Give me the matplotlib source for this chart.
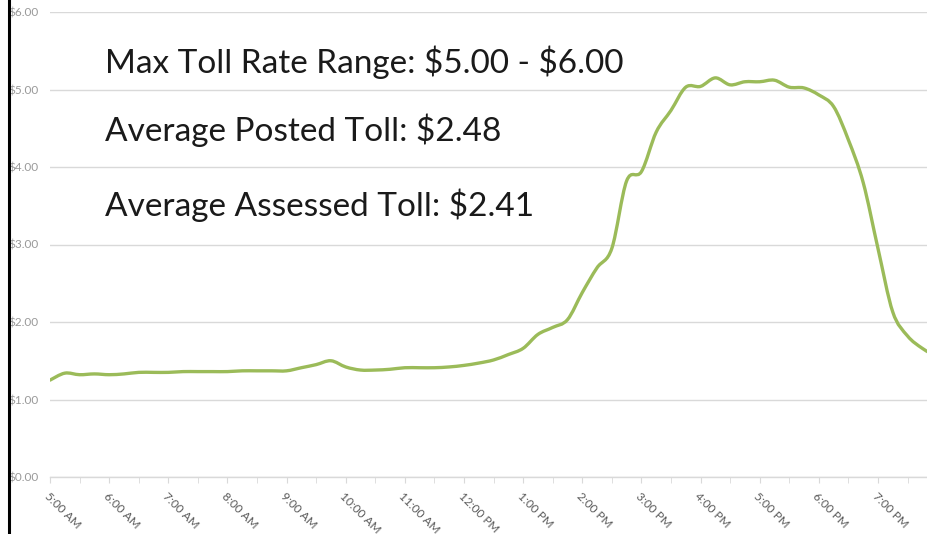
import matplotlib
matplotlib.use("Agg")
import matplotlib.pyplot as plt
from matplotlib.lines import Line2D
from matplotlib.path import Path
from matplotlib.patches import PathPatch
from matplotlib.ticker import MultipleLocator, FuncFormatter

# toll rate every 15 minutes starting 5:00 AM
start_hour = 5.0
step_hours = 0.25
toll = [1.25, 1.34, 1.32, 1.33, 1.32, 1.33, 1.35, 1.35, 1.35, 1.36,
        1.36, 1.36, 1.36, 1.37, 1.37, 1.37, 1.37, 1.41, 1.45, 1.50,
        1.42, 1.38, 1.38, 1.39, 1.41, 1.41, 1.41, 1.42, 1.44, 1.47,
        1.51, 1.58, 1.66, 1.84, 1.93, 2.03, 2.38, 2.70, 2.95, 3.82,
        3.94, 4.45, 4.73, 5.03, 5.04, 5.15, 5.06, 5.10, 5.10, 5.12,
        5.03, 5.02, 4.93, 4.78, 4.35, 3.80, 2.95, 2.13, 1.82, 1.66,
        1.55]
hours = [start_hour + i * step_hours for i in range(len(toll))]

hour_labels = ["5:00 AM", "6:00 AM", "7:00 AM", "8:00 AM", "9:00 AM",
               "10:00 AM", "11:00 AM", "12:00 PM", "1:00 PM", "2:00 PM",
               "3:00 PM", "4:00 PM", "5:00 PM", "6:00 PM", "7:00 PM"]

notes = [r"Max Toll Rate Range: \$5.00 - \$6.00",
         r"Average Posted Toll: \$2.48",
         r"Average Assessed Toll: \$2.41"]

font = "Lato"
line_color = "#9bbb59"
grid_color = "#d9d9d9"


def smooth_path(xs, ys, t=1 / 6):
    # excel style smoothed line: catmull-rom turned into bezier segments
    verts = [(xs[0], ys[0])]
    codes = [Path.MOVETO]
    n = len(xs)
    for i in range(n - 1):
        x0, y0 = xs[max(i - 1, 0)], ys[max(i - 1, 0)]
        x1, y1 = xs[i], ys[i]
        x2, y2 = xs[i + 1], ys[i + 1]
        x3, y3 = xs[min(i + 2, n - 1)], ys[min(i + 2, n - 1)]
        verts += [(x1 + (x2 - x0) * t, y1 + (y2 - y0) * t),
                  (x2 - (x3 - x1) * t, y2 - (y3 - y1) * t),
                  (x2, y2)]
        codes += [Path.CURVE4] * 3
    return Path(verts, codes)


fig = plt.figure(figsize=(9.28, 5.34), dpi=100)
ax = fig.add_axes([50 / 928, 57 / 534, 878 / 928, 465 / 534])

ax.add_patch(PathPatch(smooth_path(hours, toll), facecolor="none",
                       edgecolor=line_color, lw=2.4, capstyle="round",
                       joinstyle="round", zorder=3))

ax.set_xlim(5.0, 5.0 + 878 / 59.14)
ax.set_ylim(0, 6)

# y axis
ax.yaxis.set_major_locator(MultipleLocator(1))
ax.yaxis.set_major_formatter(FuncFormatter(lambda v, p: "${:.2f}".format(v)))
ax.tick_params(axis="y", length=0, pad=8, labelsize=8.5, labelcolor="#999999")
for lab in ax.get_yticklabels():
    lab.set_fontfamily(font)
ax.grid(axis="y", color=grid_color, lw=1)
ax.set_axisbelow(True)

# x axis
ax.set_xticks([5 + i for i in range(len(hour_labels))])
ax.set_xticklabels(hour_labels, rotation=-45, ha="left", va="top",
                   rotation_mode="anchor", fontfamily=font)
ax.xaxis.set_minor_locator(MultipleLocator(0.5))
ax.tick_params(axis="x", which="both", length=4, color=grid_color,
               labelsize=8.5, labelcolor="#595959", pad=6)

for s in ["top", "right", "left"]:
    ax.spines[s].set_visible(False)
ax.spines["bottom"].set_color(grid_color)
ax.spines["bottom"].set_linewidth(1)

# annotation block
ys = [73, 141, 216]
for txt, yp in zip(notes, ys):
    fig.text(105 / 928, 1 - yp / 534, txt, fontsize=24, fontfamily=font,
             color="#1a1a1a", va="baseline", ha="left")

# slide border on the left
fig.add_artist(Line2D([9 / 928, 9 / 928], [0, 1], transform=fig.transFigure,
                      color="black", lw=2.2))

fig.savefig("out.png", dpi=100)
